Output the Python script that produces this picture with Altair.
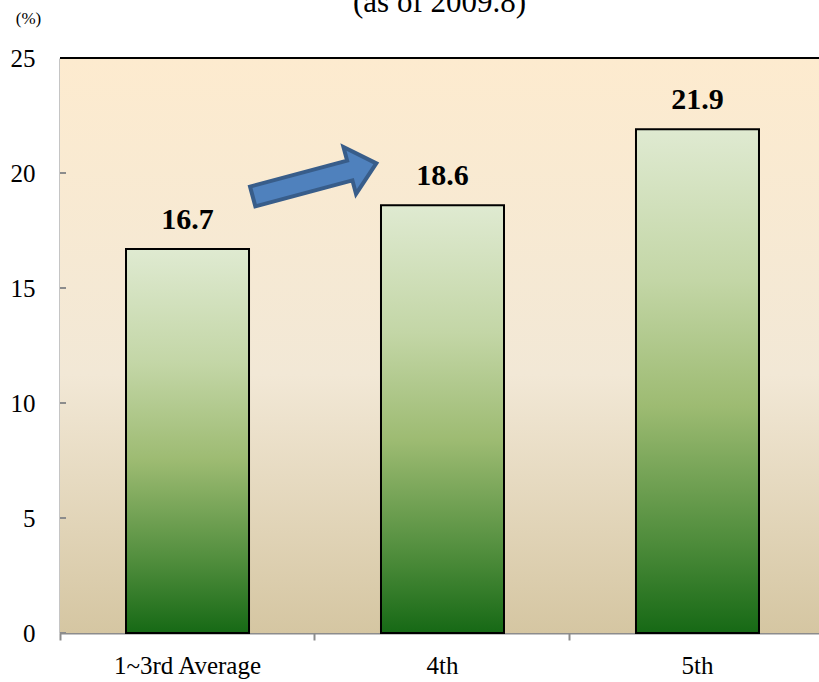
import altair as alt
import pandas as pd

# Survey rounds and the share (%) reported for each
rounds = ["1~3rd Average", "4th", "5th"]
shares = [16.7, 18.6, 21.9]

# Y-axis ticks
y_ticks = [0, 5, 10, 15, 20, 25]

# Trend arrow: anchored on the first round, pointing toward the next one
arrow_round = ["1~3rd Average"]
arrow_level = [19.7]

bars_df = pd.DataFrame({"round": rounds, "share": shares})
ticks_df = pd.DataFrame({"tick": y_ticks})
arrow_df = pd.DataFrame({"round": arrow_round, "level": arrow_level})
frame_df = pd.DataFrame({"frame": [0]})

FONT = "Liberation Serif"
W, H = 759, 575

x_scale = alt.Scale(
    domain=rounds, paddingInner=0.5176, paddingOuter=0.2471, align=0.5238
)
y_scale = alt.Scale(domain=[0, 25], nice=False)

bar_fill = alt.LinearGradient(
    gradient="linear",
    x1=0, x2=0, y1=0, y2=1,
    stops=[
        alt.GradientStop(color="#dfead1", offset=0),
        alt.GradientStop(color="#c3d6a6", offset=0.3),
        alt.GradientStop(color="#9dbb72", offset=0.55),
        alt.GradientStop(color="#4e8c3b", offset=0.82),
        alt.GradientStop(color="#166915", offset=1),
    ],
)

bg_fill = alt.LinearGradient(
    gradient="linear",
    x1=0, x2=0, y1=0, y2=1,
    stops=[
        alt.GradientStop(color="#fdebcf", offset=0),
        alt.GradientStop(color="#f2e8d6", offset=0.55),
        alt.GradientStop(color="#d5c6a2", offset=1),
    ],
)

x_enc = alt.X(
    "round:N",
    scale=x_scale,
    sort=rounds,
    axis=alt.Axis(
        title=None,
        labelAngle=0,
        labelFont=FONT,
        labelFontSize=25,
        labelColor="black",
        labelPadding=13,
        bandPosition=-0.5366,
        domainColor="#8c8c8c",
        domainWidth=2,
        tickColor="#8c8c8c",
        tickWidth=2,
        tickSize=7,
        grid=False,
    ),
)

# plot-area background
background = (
    alt.Chart(frame_df)
    .mark_rect(fill=bg_fill)
    .encode(x=alt.value(0), x2=alt.value(W), y=alt.value(0), y2=alt.value(H))
)

bars = (
    alt.Chart(bars_df)
    .mark_bar(fill=bar_fill, stroke="black", strokeWidth=2)
    .encode(
        x=x_enc,
        y=alt.Y(
            "share:Q",
            scale=y_scale,
            axis=alt.Axis(
                values=y_ticks,
                title="(%)",
                titleAngle=0,
                titleFont=FONT,
                titleFontSize=17,
                titleFontWeight="normal",
                titleColor="black",
                titleX=-32,
                titleY=-40,
                titleAlign="center",
                titleBaseline="middle",
                labelFont=FONT,
                labelFontSize=25,
                labelColor="black",
                labelPadding=25,
                ticks=False,
                domainColor="#8c8c8c",
                domainWidth=2,
                grid=False,
            ),
        ),
    )
)

labels = (
    alt.Chart(bars_df)
    .mark_text(
        font=FONT, fontSize=30, fontWeight="bold", color="black",
        baseline="bottom", dy=-14,
    )
    .encode(
        x=alt.X("round:N", scale=x_scale, sort=rounds),
        y=alt.Y("share:Q", scale=y_scale),
        text=alt.Text("share:Q", format=".1f"),
    )
)

# short inward tick marks along the y axis
inner_ticks = (
    alt.Chart(ticks_df)
    .mark_rule(color="#8c8c8c", strokeWidth=2)
    .encode(
        y=alt.Y("tick:Q", scale=y_scale),
        x=alt.value(0),
        x2=alt.value(6),
    )
)

# top frame line of the plot area
top_line = (
    alt.Chart(frame_df)
    .mark_rule(color="black", strokeWidth=2)
    .encode(y=alt.value(0), x=alt.value(0), x2=alt.value(W))
)

ARROW_PATH = (
    "M-1,-0.16 L0.57,-0.16 L0.57,-0.38 L1,0 "
    "L0.57,0.38 L0.57,0.16 L-1,0.16 Z"
)

arrow = (
    alt.Chart(arrow_df)
    .mark_point(
        shape=ARROW_PATH,
        filled=True,
        fill="#4f81bd",
        stroke="#385d8a",
        strokeWidth=4,
        opacity=1,
        fillOpacity=1,
        size=128 * 128,
        angle=345,
        xOffset=127,
    )
    .encode(
        x=alt.X("round:N", scale=x_scale, sort=rounds),
        y=alt.Y("level:Q", scale=y_scale),
    )
)

chart = (
    alt.layer(background, bars, inner_ticks, top_line, arrow, labels)
    .properties(
        width=W,
        height=H,
        autosize=alt.AutoSizeParams(type="none"),
        padding={"left": 60, "top": 58, "right": 0, "bottom": 49},
        title=alt.Title(
            "(as of 2009.8)",
            font=FONT,
            fontSize=31,
            fontWeight="normal",
            color="black",
            anchor="middle",
            offset=-10,
        ),
        background="white",
    )
    .configure_view(stroke=None)
)

chart.save("out.html", embed_options={"renderer": "svg", "actions": False})
